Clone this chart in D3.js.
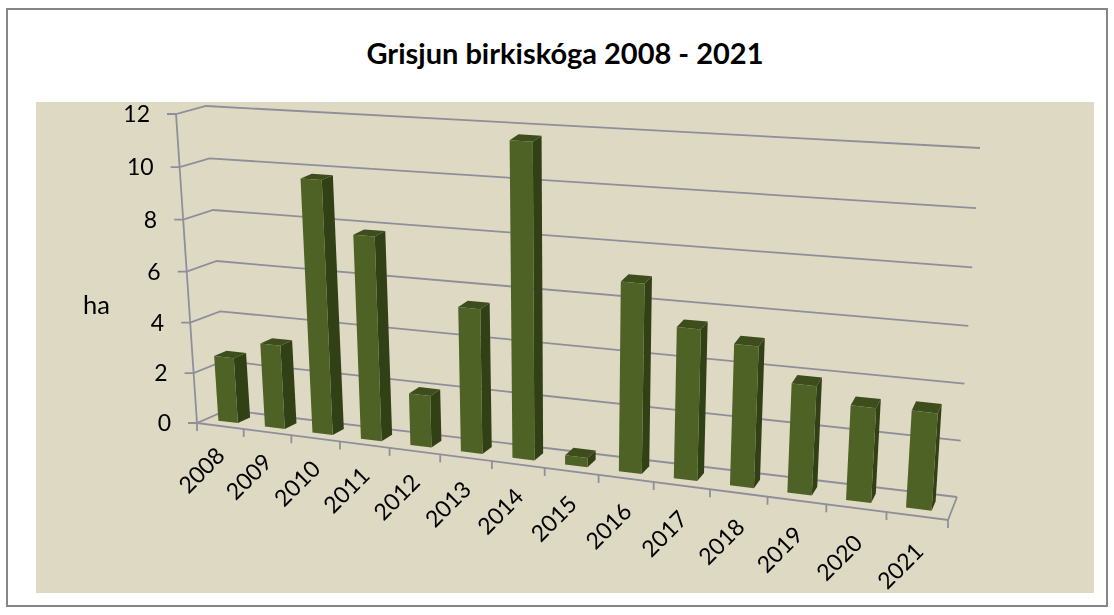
<!DOCTYPE html>
<html><head><meta charset="utf-8">
<script src="https://cdn.jsdelivr.net/npm/d3@7/dist/d3.min.js"></script>
<style>html,body{margin:0;padding:0;background:#fff}svg{display:block}text{font-family:Lato,"Open Sans",sans-serif;fill:#000}</style>
</head><body><svg id="c" width="1114" height="615"></svg>
<script>
const years=["2008","2009","2010","2011","2012","2013","2014","2015","2016","2017","2018","2019","2020","2021"];
const values=[2.6,3.3,9.8,7.85,2.0,5.5,11.75,0.35,7.0,5.55,5.15,3.95,3.4,3.45];
const yTicks=[0,2,4,6,8,10,12];
const title="Grisjun birkiskóga 2008 - 2021";
const yTitle="ha";

const svg=d3.select("#c");
svg.append("rect").attr("x",7).attr("y",9).attr("width",1100).attr("height",597).attr("fill","#fff").attr("stroke","#868686").attr("stroke-width",2);
svg.append("rect").attr("x",36).attr("y",102).attr("width",1058).attr("height",491).attr("fill","#DDD9C3");
svg.append("text").attr("x",565).attr("y",64).attr("text-anchor","middle").attr("font-size",29).attr("font-weight",700).text(title);

// projected box: corners of the chart's 3D frame on the page
const corner={ftl:[176,114],ftr:[980-9,148+23],fbl:[197,423],fbr:[948,520],btl:[206,106],btr:[980,148],bbl:[227,410],bbr:[957,497]};
const xS=d3.scaleLinear().domain([0,years.length]).range([0,1]);
const yS=d3.scaleLinear().domain([0,12]).range([0,1]);
const persp=(t,r)=>t/(r+(1-r)*t);
const mix=(a,b,t)=>[a[0]+(b[0]-a[0])*t,a[1]+(b[1]-a[1])*t];
// x: category position, v: value, z: 0 front .. 1 back
function P(x,v,z){
  const t=persp(xS(x),1.16), u=persp(yS(v),1.04);
  const bot=mix(mix(corner.fbl,corner.fbr,t),mix(corner.bbl,corner.bbr,t),z);
  const top=mix(mix(corner.ftl,corner.ftr,t),mix(corner.btl,corner.btr,t),z);
  return mix(bot,top,u);
}
const line=d3.line().x(d=>d[0]).y(d=>d[1]);
const grid="#8f8f9b";
const defs=svg.append("defs");
defs.append("filter").attr("id","soft").append("feGaussianBlur").attr("stdDeviation",0.6);
defs.append("filter").attr("id","softT").append("feGaussianBlur").attr("stdDeviation",0.3);
const gridG=svg.append("g").attr("fill","none").attr("stroke",grid).attr("stroke-width",1.8).attr("filter","url(#soft)");
yTicks.forEach(v=>{
  gridG.append("path").attr("d",line([[P(0,v,0)[0]-9,P(0,v,0)[1]],P(0,v,0),P(0,v,1),P(years.length,v,1)]));
});
gridG.append("path").attr("d",line([P(0,12,0),P(0,0,0)]));
gridG.append("path").attr("d",line([P(0,0,0),P(years.length,0,0),P(years.length,0,1)]));
d3.range(years.length+1).forEach(i=>{
  const p=P(i,0,0);
  gridG.append("path").attr("d",line([p,[p[0],p[1]+8]]));
});
const barG=svg.append("g").attr("filter","url(#soft)");
const z0=0.3,z1=0.72,a0=0.27,b0=0.69;
years.forEach((yr,i)=>{
  const a=i+a0,b=i+b0,v=values[i];
  const poly=(pts,c)=>barG.append("path").attr("d",line(pts)+"Z").attr("fill",c);
  poly([P(b,0,z0),P(b,0,z1),P(b,v,z1),P(b,v,z0)],"#333F17");
  poly([P(a,v,z0),P(b,v,z0),P(b,v,z1),P(a,v,z1)],"#3E4D1F");
  poly([P(a,0,z0),P(b,0,z0),P(b,v,z0),P(a,v,z0)],"#4F6228");
});
const textG=svg.append("g").attr("filter","url(#softT)");
yTicks.forEach(v=>{
  const p=P(0,v,0);
  textG.append("text").attr("x",p[0]-26).attr("y",p[1]+8).attr("text-anchor","end").attr("font-size",23).text(v);
});
textG.append("text").attr("x",83).attr("y",314).attr("font-size",25.5).text(yTitle);
years.forEach((yr,i)=>{
  const p=P(i+0.5,0,0);
  textG.append("text").attr("transform",`translate(${p[0]+6+i*0.15},${p[1]+31+i*0.45}) rotate(-45)`).attr("text-anchor","end").attr("font-size",23).text(yr);
});
</script></body></html>
